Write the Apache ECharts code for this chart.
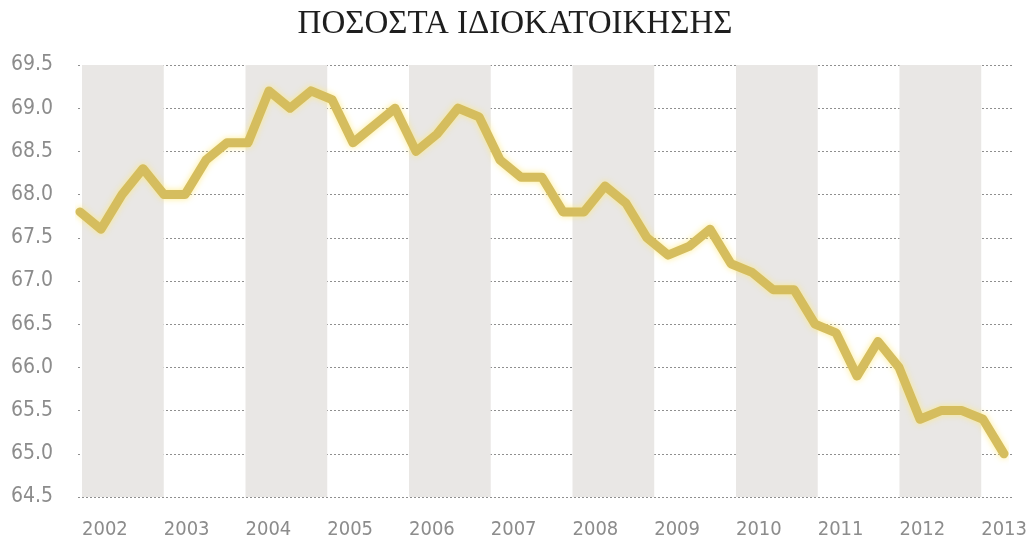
<!DOCTYPE html>
<html>
<head>
<meta charset="utf-8">
<script src="https://cdn.jsdelivr.net/npm/echarts@6/dist/echarts.min.js"></script>
<style>
  html, body { margin: 0; padding: 0; background: #ffffff; }
  #chart { width: 1030px; height: 542px; }
</style>
</head>
<body>
<div id="chart"></div>
<script>
// Home-ownership rate, quarterly, 2002 Q1 – 2013 Q1 (%)
const quarters = [
  '2002 Q1','2002 Q2','2002 Q3','2002 Q4',
  '2003 Q1','2003 Q2','2003 Q3','2003 Q4',
  '2004 Q1','2004 Q2','2004 Q3','2004 Q4',
  '2005 Q1','2005 Q2','2005 Q3','2005 Q4',
  '2006 Q1','2006 Q2','2006 Q3','2006 Q4',
  '2007 Q1','2007 Q2','2007 Q3','2007 Q4',
  '2008 Q1','2008 Q2','2008 Q3','2008 Q4',
  '2009 Q1','2009 Q2','2009 Q3','2009 Q4',
  '2010 Q1','2010 Q2','2010 Q3','2010 Q4',
  '2011 Q1','2011 Q2','2011 Q3','2011 Q4',
  '2012 Q1','2012 Q2','2012 Q3','2012 Q4',
  '2013 Q1'
];
const ownershipRate = [
  67.8, 67.6, 68.0, 68.3,
  68.0, 68.0, 68.4, 68.6,
  68.6, 69.2, 69.0, 69.2,
  69.1, 68.6, 68.8, 69.0,
  68.5, 68.7, 69.0, 68.9,
  68.4, 68.2, 68.2, 67.8,
  67.8, 68.1, 67.9, 67.5,
  67.3, 67.4, 67.6, 67.2,
  67.1, 66.9, 66.9, 66.5,
  66.4, 65.9, 66.3, 66.0,
  65.4, 65.5, 65.5, 65.4,
  65.0
];
// Year labels along the bottom, and the years drawn with a grey band
const yearTicks = [2002, 2003, 2004, 2005, 2006, 2007, 2008, 2009, 2010, 2011, 2012, 2013];
const shadedYears = [2002, 2004, 2006, 2008, 2010, 2012];

const titleText = 'ΠΟΣΟΣΤΑ ΙΔΙΟΚΑΤΟΙΚΗΣΗΣ';

const Y_MIN = 64.5, Y_MAX = 69.5, Y_STEP = 0.5;
const GRID_TOP = 65, GRID_BOTTOM = 45;
const labelFont = '"DejaVu Sans Condensed", "Liberation Sans Narrow", sans-serif';

const chart = echarts.init(document.getElementById('chart'), null, { renderer: 'canvas' });

chart.setOption({
  backgroundColor: '#ffffff',
  animation: false,
  title: {
    text: titleText,
    left: 'center',
    top: 3,
    textStyle: {
      fontFamily: '"Liberation Serif", "DejaVu Serif", serif',
      fontWeight: 'normal',
      fontSize: 33,
      color: '#1e1e1e'
    }
  },
  grid: [
    // grid 0: the rate line
    { left: 80, right: 26, top: GRID_TOP, bottom: GRID_BOTTOM },
    // grid 1: year bands, dotted grid lines, axis labels
    { left: 78, right: 11, top: GRID_TOP, bottom: GRID_BOTTOM }
  ],
  xAxis: [
    {
      type: 'category',
      gridIndex: 0,
      data: quarters,
      boundaryGap: false,
      show: false
    },
    {
      type: 'value',
      gridIndex: 1,
      min: 2001.951,
      max: 2013.385,
      axisLine: { show: false },
      axisTick: { show: false },
      splitLine: { show: false },
      axisLabel: {
        customValues: yearTicks,
        formatter: v => String(Math.round(v)),
        align: 'left',
        margin: 23,
        color: '#8c8c8c',
        fontFamily: labelFont,
        fontSize: 20
      }
    }
  ],
  yAxis: [
    {
      type: 'value',
      gridIndex: 0,
      min: Y_MIN,
      max: Y_MAX,
      interval: Y_STEP,
      show: false
    },
    {
      type: 'value',
      gridIndex: 1,
      min: Y_MIN,
      max: Y_MAX,
      interval: Y_STEP,
      axisLine: { show: false },
      axisTick: { show: false },
      axisLabel: {
        formatter: v => v.toFixed(1),
        margin: 25,
        color: '#8c8c8c',
        fontFamily: labelFont,
        fontSize: 21
      },
      splitLine: {
        show: true,
        lineStyle: { color: '#8f8f8f', width: 1, type: [2, 2] }
      }
    }
  ],
  series: [
    {
      // grey band behind every other year
      type: 'line',
      xAxisIndex: 1,
      yAxisIndex: 1,
      data: [],
      z: -1,
      silent: true,
      markArea: {
        silent: true,
        itemStyle: { color: '#e9e7e5' },
        data: shadedYears.map(y => [{ xAxis: y }, { xAxis: y + 1 }])
      }
    },
    {
      name: 'Ιδιοκατοίκηση',
      type: 'line',
      xAxisIndex: 0,
      yAxisIndex: 0,
      data: ownershipRate,
      showSymbol: false,
      smooth: false,
      lineStyle: {
        color: '#d5bd5e',
        width: 9,
        join: 'round',
        cap: 'round',
        shadowColor: 'rgba(255, 232, 110, 0.75)',
        shadowBlur: 6
      },
      z: 5
    }
  ]
});
</script>
</body>
</html>
